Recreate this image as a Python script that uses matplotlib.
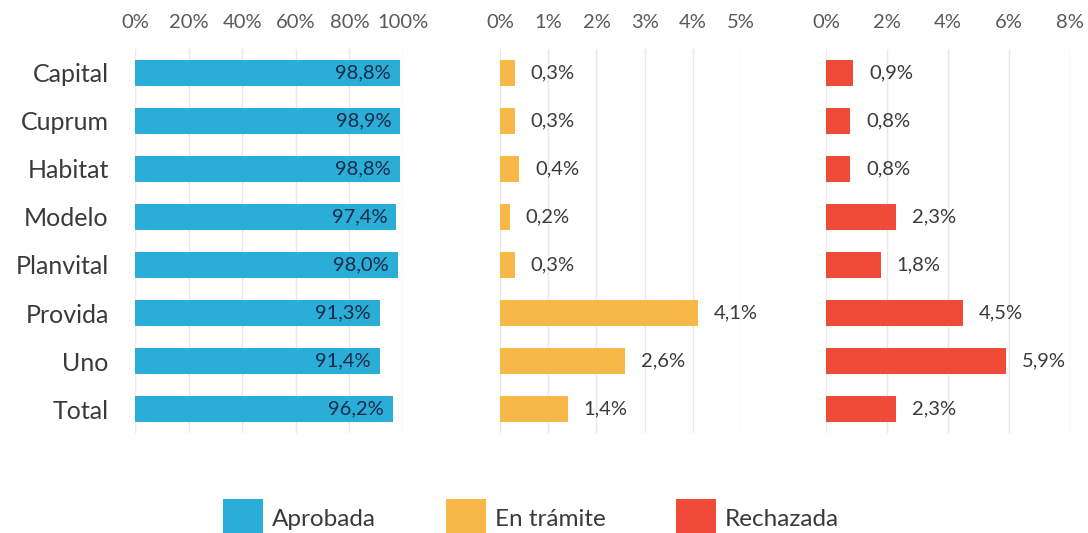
import matplotlib
matplotlib.use("Agg")
import matplotlib.pyplot as plt
from matplotlib.patches import Patch

plt.rcParams['font.family'] = ['Lato', 'DejaVu Sans']

categories = ["Capital", "Cuprum", "Habitat", "Modelo", "Planvital", "Provida", "Uno", "Total"]
aprobada = [98.8, 98.9, 98.8, 97.4, 98.0, 91.3, 91.4, 96.2]
en_tramite = [0.3, 0.3, 0.4, 0.2, 0.3, 4.1, 2.6, 1.4]
rechazada = [0.9, 0.8, 0.8, 2.3, 1.8, 4.5, 5.9, 2.3]
series_names = ["Aprobada", "En trámite", "Rechazada"]
colors = ["#2AAED8", "#F8B847", "#EF4B38"]

fig = plt.figure(figsize=(10.88, 5.33), dpi=100)

panels = [
    (aprobada, [0.1241, 0.1876, 0.2463, 0.7205], 100, [0, 20, 40, 60, 80, 100], True),
    (en_tramite, [0.4596, 0.1876, 0.2215, 0.7205], 5, [0, 1, 2, 3, 4, 5], False),
    (rechazada, [0.7592, 0.1876, 0.2243, 0.7205], 8, [0, 2, 4, 6, 8], False),
]

ypos = list(range(len(categories)))
for i, (vals, rect, xmax, ticks, inside) in enumerate(panels):
    ax = fig.add_axes(rect)
    ax.barh(ypos, vals, height=0.56, color=colors[i], zorder=3)
    ax.set_xlim(0, xmax)
    ax.set_ylim(len(categories) - 0.5, -0.5)
    ax.set_xticks(ticks)
    ax.set_xticklabels([f"{t}%" for t in ticks], fontsize=14.5, color="#595959")
    ax.xaxis.tick_top()
    ax.tick_params(axis='x', length=0, pad=13)
    ax.grid(axis='x', color="#E8E8E8", linewidth=1, zorder=0)
    for s in ax.spines.values():
        s.set_visible(False)
    if i == 0:
        ax.set_yticks(ypos)
        ax.set_yticklabels(categories, fontsize=18, color="#3a3a3a")
        ax.tick_params(axis='y', length=0, pad=19)
    else:
        ax.set_yticks([])
    for y, v in zip(ypos, vals):
        lab = f"{v:.1f}%".replace(".", ",")
        if inside:
            ax.text(v - 3.3, y, lab, ha='right', va='center', fontsize=14.5,
                    color="#1B2A47", zorder=4)
        else:
            ax.text(v + xmax * 0.065, y, lab, ha='left', va='center', fontsize=14.5,
                    color="#3a3a3a", zorder=4)

handles = [Patch(facecolor=c, edgecolor='none') for c in colors]
fig.legend(handles, series_names, loc='center', bbox_to_anchor=(0.488, 0.028),
           ncol=3, frameon=False, fontsize=17.5, handlelength=1.65, handleheight=2.1,
           handletextpad=0.35, columnspacing=2.9, labelcolor="#3a3a3a")

fig.savefig("out.png", dpi=100)
